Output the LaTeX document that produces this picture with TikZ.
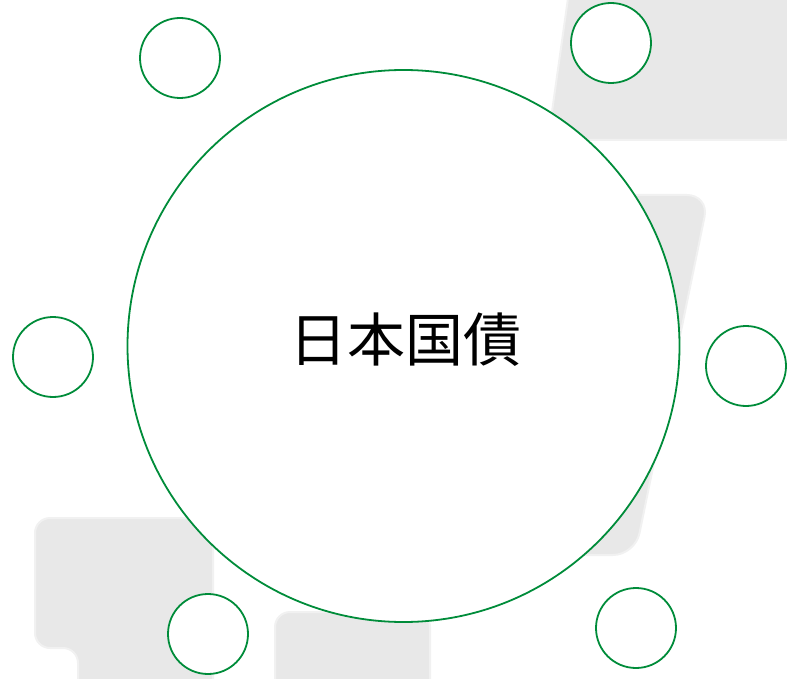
\documentclass[tikz,border=0pt]{standalone}
\usepackage{fontspec}
\newfontfamily\jpfont{Noto Sans CJK JP}
\definecolor{leaf}{RGB}{0,140,58}
\definecolor{shade}{RGB}{232,232,232}
\begin{document}
\begin{tikzpicture}[x=1pt, y=-1pt,
    tile/.style={fill=shade, draw=shade!60!white, line width=2pt},
    hub/.style={circle, draw=leaf, fill=white, line width=1.8pt, minimum size=552pt, inner sep=0pt},
    bubble/.style={circle, draw=leaf, fill=white, line width=1.8pt, minimum size=80pt, inner sep=0pt}
]
\useasboundingbox (0,0) rectangle (787,679);

% background tiles
\begin{scope}
\clip (0,0) rectangle (787,679);
\path[tile, rounded corners=26pt] (572,-30) -- (548,140) -- (810,140) -- (810,-30) -- cycle;
\path[tile, rounded corners=22pt] (580,195) -- (709,195) -- (635,555) -- (520,555) -- cycle;
\path[tile, rounded corners=15pt] (78,700) -- (78,648) -- (35,648) -- (35,518) -- (213,518) -- (213,700) -- cycle;
\path[tile, rounded corners=15pt] (275,700) -- (275,612) -- (430,612) -- (430,700) -- cycle;
\end{scope}

\node[hub] (bond) at (403.5,346) {};
\node[font=\jpfont\fontsize{58}{62}\selectfont] (title) at (405,340) {日本国債};

\node[bubble] (c1) at (180,58) {};
\node[bubble] (c2) at (611,43) {};
\node[bubble] (c3) at (53,357) {};
\node[bubble] (c4) at (746,366) {};
\node[bubble] (c5) at (208,634) {};
\node[bubble] (c6) at (636,628) {};
\end{tikzpicture}
\end{document}
